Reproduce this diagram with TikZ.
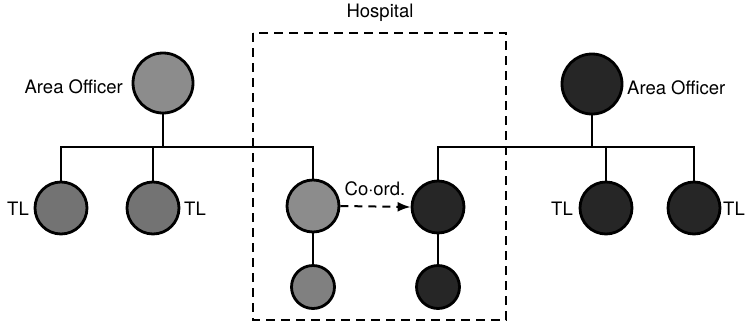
\documentclass[tikz,border=0pt]{standalone}
\usepackage{fontspec}
\setmainfont{TeX Gyre Heros}
\usetikzlibrary{arrows.meta}
\begin{document}
\begin{tikzpicture}[x=1pt,y=-1pt,
  person/.style={circle, draw=black, line width=2.8pt, inner sep=0pt},
  officer/.style={person, minimum size=60pt},
  leader/.style={person, minimum size=52pt},
  member/.style={person, minimum size=43pt},
  lightfill/.style={fill=black!45},
  darkfill/.style={fill=black!85},
  wire/.style={line width=2.4pt, line cap=rect},
  lab/.style={font=\fontsize{18.5}{21}\selectfont, inner sep=0pt},
  boundary/.style={line width=1.9pt, dash pattern=on 9pt off 6pt},
  coordline/.style={line width=2pt, dash pattern=on 8pt off 6pt,
    -{Latex[length=13pt,width=10pt]}}]
\useasboundingbox (0,0) rectangle (751,327);

% hospital boundary
\draw[boundary] (253,33) rectangle (506,320);
\node[lab] (hosp) at (380,13) {Hospital};

% left team
\node[officer, lightfill] (loA) at (163,83) {};
\node[leader, fill=black!55] (lt1) at (61,208) {};
\node[leader, fill=black!55] (lt2) at (153,208) {};
\node[leader, lightfill] (lh) at (313,206) {};
\node[member, fill=black!50] (lb) at (313,287) {};

% right team
\node[officer, darkfill] (roA) at (592,84) {};
\node[leader, darkfill] (rt1) at (606,208) {};
\node[leader, darkfill] (rt2) at (694,208) {};
\node[leader, darkfill] (rh) at (438,207) {};
\node[member, darkfill] (rb) at (438,287) {};

% bus lines
\coordinate (bus) at (0,147);

\draw[wire] (loA.south) -- (loA.south |- bus);
\draw[wire] (lt1.north) -- (lt1.north |- bus) -- (lh.north |- bus) -- (lh.north);
\draw[wire] (lt2.north) -- (lt2.north |- bus);
\draw[wire] (lh.south) -- (lb.north);

\draw[wire] (roA.south) -- (roA.south |- bus);
\draw[wire] (rh.north) -- (rh.north |- bus) -- (rt2.north |- bus) -- (rt2.north);
\draw[wire] (rt1.north) -- (rt1.north |- bus);
\draw[wire] (rh.south) -- (rb.north);

% co-ordination link
\draw[coordline] (lh.east) -- (rh.west);
\node[lab] (coord) at (375,189) {Co·ord.};

% labels
\node[lab, anchor=east] (loAl) at (123,87) {Area Officer};
\node[lab, anchor=west] (roAl) at (627,88) {Area Officer};
\node[lab, anchor=east] (lt1l) at (29,209) {TL};
\node[lab, anchor=west] (lt2l) at (184,209) {TL};
\node[lab, anchor=east] (rt1l) at (573,209) {TL};
\node[lab, anchor=west] (rt2l) at (723,209) {TL};
\end{tikzpicture}
\end{document}
